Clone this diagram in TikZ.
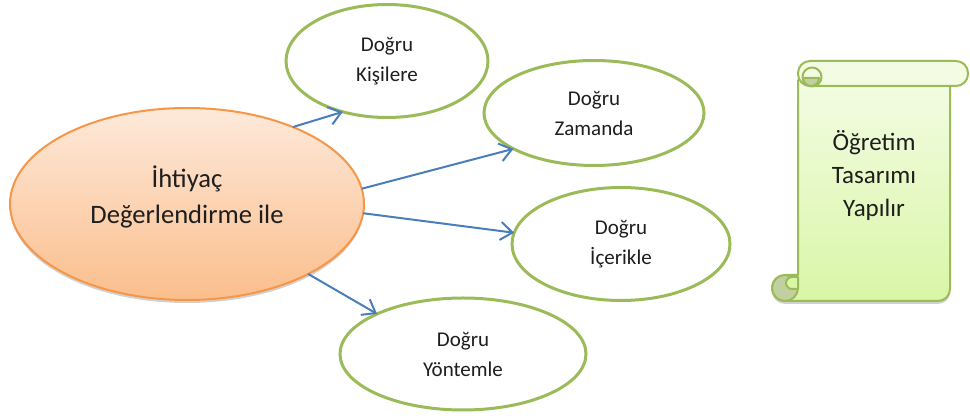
\documentclass[tikz,border=0pt]{standalone}
\usepackage{fontspec}
\setmainfont{Carlito}
\usetikzlibrary{arrows.meta,shapes.geometric,shadows}

\definecolor{needline}{HTML}{F79646}
\definecolor{needtop}{HTML}{FDE9DA}
\definecolor{needbottom}{HTML}{FBBE8C}
\definecolor{goalgreen}{HTML}{9BBB59}
\definecolor{arrowblue}{HTML}{4A7EBB}
\definecolor{scrolltop}{HTML}{F3FCE3}
\definecolor{scrollbottom}{HTML}{D9F6A6}
\definecolor{curldark}{HTML}{C2D0A0}
\definecolor{textgray}{HTML}{1E1E1E}

\begin{document}
\begin{tikzpicture}
        [x=0.5pt,y=-0.5pt,every node/.style={ellipse,inner sep=0pt,outer sep=0pt,align=center,text=textgray},
         hedef/.style={draw=goalgreen,line width=1.5pt,fill=white,font=\fontsize{10.5}{15}\selectfont},
         ihtiyac/.style={draw=needline,line width=1pt,top color=needtop,bottom color=needbottom,font=\fontsize{13.3}{18}\selectfont},
         golge/.style={drop shadow={shadow xshift=0pt,shadow yshift=-1.5pt,opacity=0.18,fill=black}},
         ok/.style={arrowblue,line width=1pt,-{Straight Barb[length=6pt,width=9pt]}},
         rulo/.style={draw=goalgreen,line width=1pt,line join=round}]
        \useasboundingbox (0,0) rectangle (970,416);

        % ihtiyac
        \node[ihtiyac,golge,text depth=9pt,minimum width=177pt,minimum height=96pt] (need) at (187,204) {\.Ihtiyaç\\Değerlendirme ile};

        % hedefler
        \node[hedef,minimum width=101pt,minimum height=56.5pt] (kisi)   at (387,61)  {Doğru\\Kişilere};
        \node[hedef,minimum width=110pt,minimum height=52.5pt] (zaman)  at (594,113) {Doğru\\Zamanda};
        \node[hedef,minimum width=109pt,minimum height=56.5pt] (icerik) at (621,244) {Doğru\\İçerikle};
        \node[hedef,minimum width=123pt,minimum height=56pt]   (yontem) at (463,354) {Doğru\\Yöntemle};

        \path[every edge/.append style={ok}]
        (need.36)       edge        (kisi.229)
        (need.5)        edge        (zaman.204)
        (need.-3)       edge        (icerik.174)
        (need.-30)      edge        (yontem.155);

        % scroll
        \draw[rulo,golge,top color=scrolltop,bottom color=scrollbottom]
        (950,80) -- (950,289) arc[start angle=0,end angle=90,radius=12] -- (785,301)
        arc[start angle=90,end angle=270,radius=13] -- (798,275) -- (798,80) -- cycle;
        \filldraw[rulo,fill=curldark] (785,288) circle[radius=13];
        \filldraw[rulo,fill=scrollbottom] (798,277) -- (798,289) -- (792,289)
        arc[start angle=90,end angle=270,radius=6] -- cycle;
        \draw[rulo,fill=scrolltop,rounded corners=6pt] (798,61) rectangle (968,86);
        \filldraw[rulo,fill=scrolltop] (812,77) circle[radius=9.5];
        \filldraw[rulo,fill=curldark] (803,78) -- (819,78) arc[start angle=0,end angle=180,radius=8] -- cycle;
        \node[font=\fontsize{12.5}{16.5}\selectfont] (sonuc) at (874,175) {Öğretim\\Tasarımı\\Yapılır};
    \end{tikzpicture}
\end{document}
